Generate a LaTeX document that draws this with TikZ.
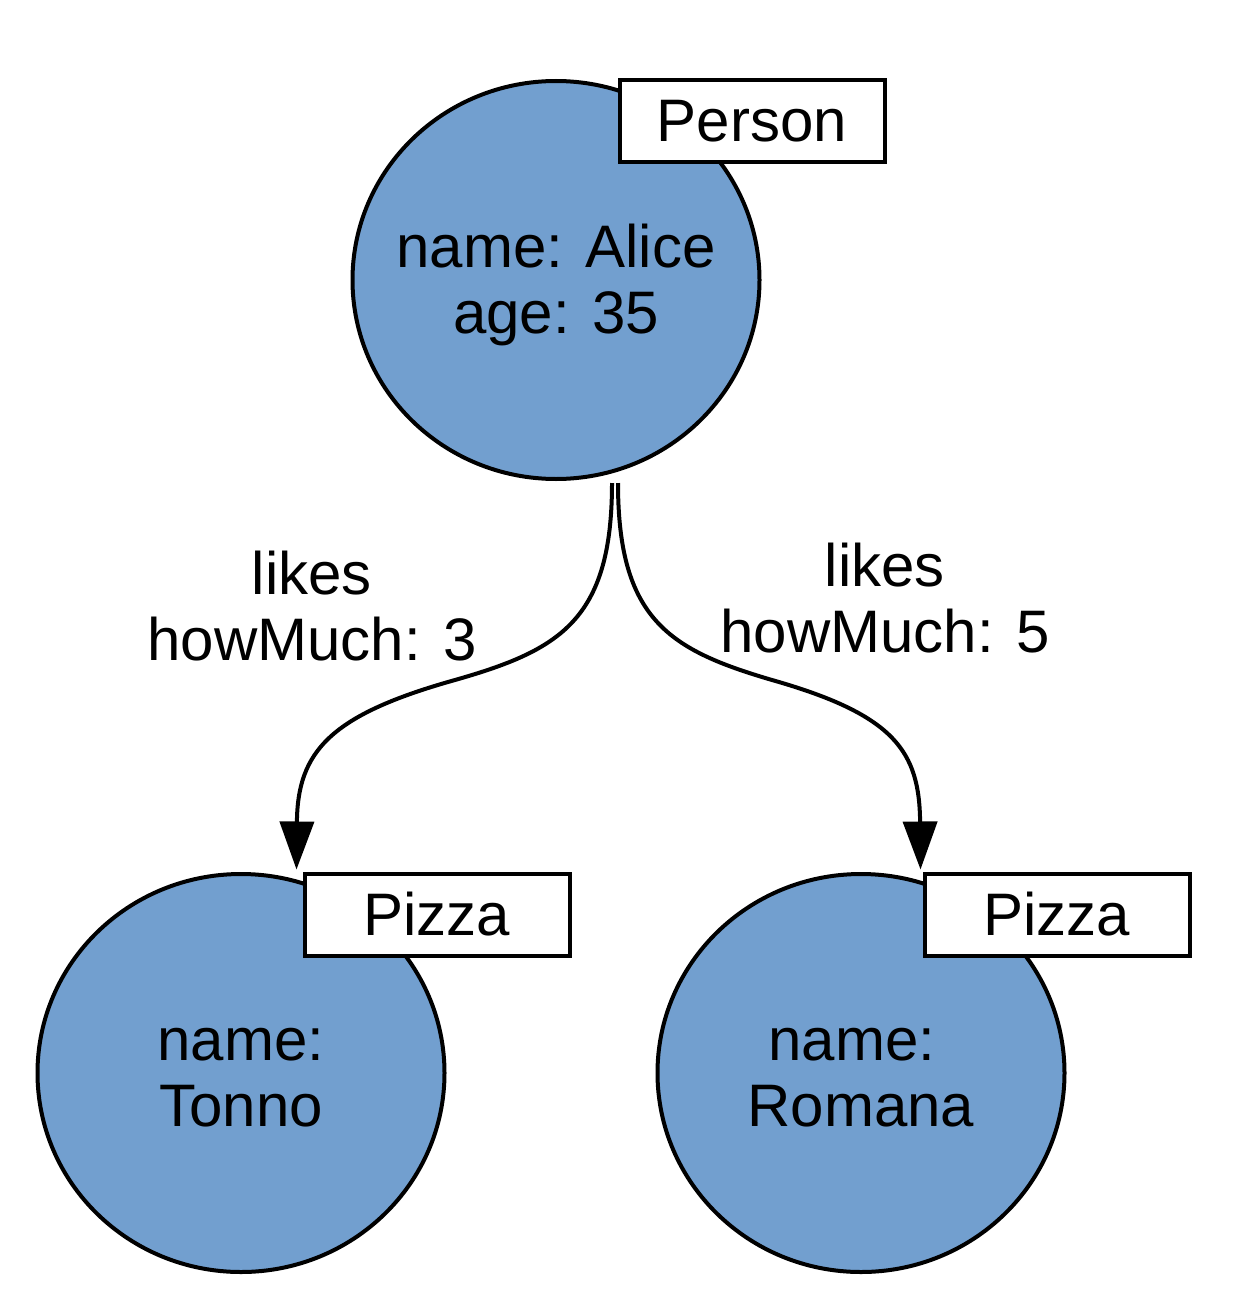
\documentclass[tikz,border=0pt]{standalone}
\usepackage{fontspec}
\setmainfont{Liberation Sans}
\usetikzlibrary{shapes.geometric,arrows.meta,calc}
\definecolor{nodeblue}{RGB}{114,159,207}
\begin{document}
\begin{tikzpicture}[x=1pt,y=-1pt,
  every node/.style={font=\fontsize{60}{66}\selectfont},
  gnode/.style={ellipse,draw=black,fill=nodeblue,line width=4pt,minimum width=407pt,minimum height=398pt,inner sep=0pt},
  labelbox/.style={rectangle,draw=black,fill=white,line width=4pt,minimum width=265pt,minimum height=82pt,inner sep=0pt},
  txt/.style={align=center,inner sep=0pt},
  rel/.style={line width=4pt,-{Triangle[length=48pt,width=34pt]}}]
\useasboundingbox (0,0) rectangle (1232,1316);
\node[gnode] (alice) at (556,280) {};
\node[gnode] (tonno) at (241,1073) {};
\node[gnode] (romana) at (861,1073) {};
\node[txt] (alicetxt) at (556,285) {name: Alice\\age: 35};
\node[txt] (tonnotxt) at (241,1078) {name:\\Tonno};
\node[txt] (romanatxt) at (861,1078) {name:\kern18pt\\Romana};
\node[labelbox] (person) at (752,121) {Person};
\node[labelbox] (pizza1) at (437,914.5) {Pizza};
\node[labelbox] (pizza2) at (1057,914.5) {Pizza};
\coordinate (s1) at ($(alice.south)+(56,2)$);
\coordinate (s2) at ($(alice.south)+(62,2)$);
\coordinate (e1) at ($(pizza1.north west)+(-6,-2)$);
\coordinate (e2) at ($(pizza2.north west)+(-2,-2)$);
\draw[rel] (s1) .. controls ($(s1)+(0,137)$) and (560,650) .. (455,680)
  .. controls (330,715) and ($(e1)+(1,-118)$) .. (e1);
\draw[rel] (s2) .. controls ($(s2)+(0,137)$) and (670,650) .. (772,680)
  .. controls (895,715) and ($(e2)+(-1,-118)$) .. (e2);
\node[txt] (l1) at (312,606) {likes\\howMuch: 3};
\node[txt] (l2) at (885,598) {likes\\howMuch: 5};
\end{tikzpicture}
\end{document}
